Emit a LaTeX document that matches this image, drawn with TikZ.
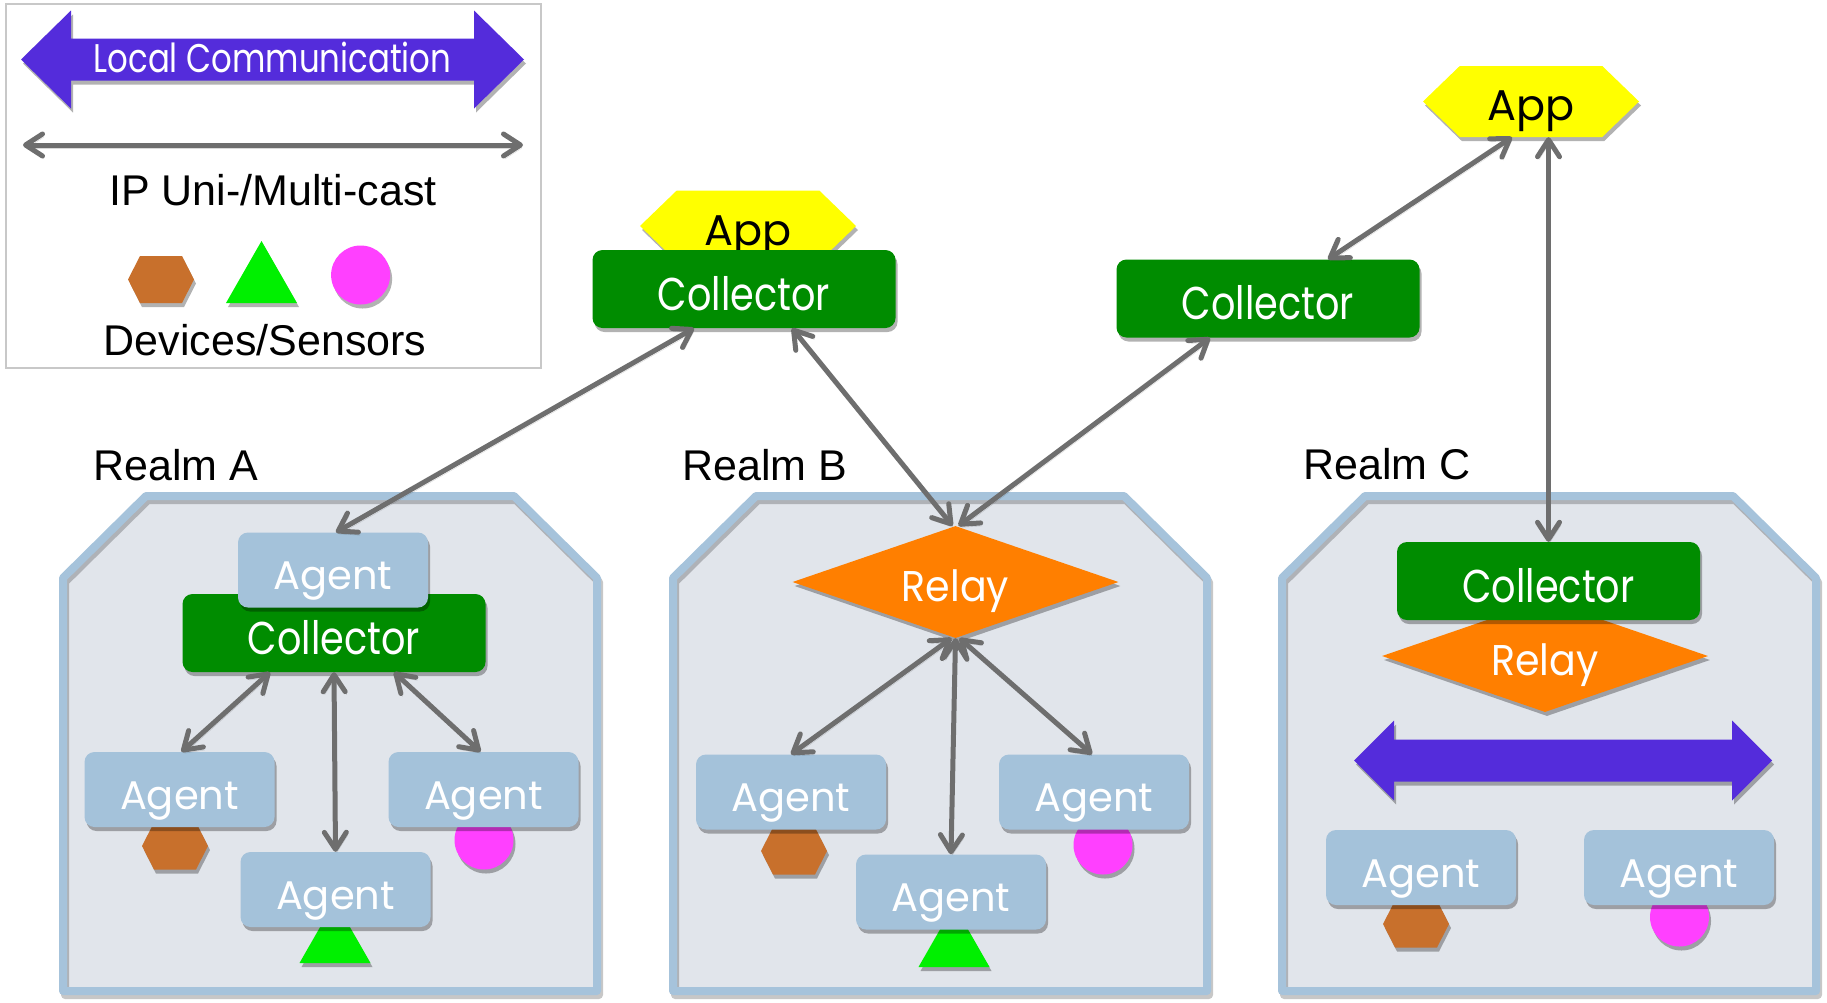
\documentclass[tikz,border=0pt]{standalone}
\usepackage{fontspec}
\setmainfont{Liberation Sans}
\newfontfamily\futN{Poppins}
\newfontfamily\futC[FakeStretch=0.83]{Poppins}
\newfontfamily\futR[FakeStretch=0.92]{Poppins}
\newfontfamily\futL[FakeStretch=0.81]{Poppins}
\usetikzlibrary{shapes.geometric,shapes.symbols,arrows.meta,shadows,calc}
\definecolor{purp}{HTML}{542CDB}
\definecolor{cgreen}{HTML}{008C00}
\definecolor{agblue}{HTML}{A4C2DA}
\definecolor{realmfill}{HTML}{E1E5EB}
\definecolor{realmborder}{HTML}{A6C3DB}
\definecolor{relayor}{HTML}{FF7F00}
\definecolor{appyel}{HTML}{FFFF00}
\definecolor{devbrown}{HTML}{C8702C}
\definecolor{devgreen}{HTML}{00F000}
\definecolor{devpink}{HTML}{FF40FF}
\definecolor{arrgray}{HTML}{6E6E6E}
\definecolor{legborder}{HTML}{C8C8C8}
\tikzset{
  shad/.style={drop shadow={shadow xshift=2pt, shadow yshift=-4pt, opacity=0.3, fill=black}},
  agentbox/.style={shape=rectangle, rounded corners=10pt, fill=agblue, minimum width=190pt, minimum height=75pt, inner sep=0pt, text=white, font=\futN\fontsize{40pt}{40pt}\selectfont, text height=39pt, text depth=0pt, shad},
  collbox/.style={shape=rectangle, rounded corners=10pt, fill=cgreen, minimum width=303pt, minimum height=78pt, inner sep=0pt, text=white, font=\futC\fontsize{46pt}{46pt}\selectfont, text height=42pt, text depth=0pt, shad},
  relaybox/.style={shape=diamond, shape aspect=2.9, fill=relayor, minimum width=326pt, minimum height=112pt, inner sep=0pt, text=white, font=\futR\fontsize{43pt}{43pt}\selectfont, text height=38pt, text depth=0pt, shad},
  appbox/.style={shape=signal, signal to=west and east, signal pointer angle=88, fill=appyel, minimum width=216pt, minimum height=71pt, inner sep=0pt, text=black, font=\futN\fontsize{43pt}{43pt}\selectfont, text height=38pt, text depth=0pt, shad},
  conn/.style={draw=arrgray, line width=5pt, {Straight Barb[length=17pt,width=22pt,round]}-{Straight Barb[length=17pt,width=22pt,round]},
    preaction={draw=black, opacity=0.15, transform canvas={xshift=1.5pt, yshift=-3pt}}},
  lbl/.style={font=\fontsize{43pt}{43pt}\selectfont, text=black, inner sep=0pt},
  lctext/.style={font=\futL\fontsize{40pt}{40pt}\selectfont, text=white, inner sep=0pt, text height=28pt, text depth=0pt},
  hexdev/.pic={\fill[devbrown, shad] (-33,0) -- (-21,-23.5) -- (21,-23.5) -- (33,0) -- (21,23.5) -- (-21,23.5) -- cycle;},
  tridev/.pic={\fill[devgreen, shad] (-35.5,0) -- (35.5,0) -- (0,-62) -- cycle;},
  circdev/.pic={\fill[devpink, shad] (0,0) circle[radius=29.5];},
  realm/.pic={
    \fill[realmfill] (4,578) -- (87,496) -- (455,496) -- (538,578) -- (538,991) -- (4,991) -- cycle;
    \draw[black, opacity=.22, line width=8pt, line join=round] (6,582) -- (89,500) -- (457,500) -- (540,582) -- (540,995) -- (6,995) -- cycle;
    \draw[realmborder, line width=8pt, line join=round] (4,578) -- (87,496) -- (455,496) -- (538,578) -- (538,991) -- (4,991) -- cycle;
  },
}
\newcommand\purplearrow[6]{% xl xr yc headlen headhalf shafthalf
  \fill[purp, shad] (#1,#3) -- ({#1+#4},{#3-#5}) -- ({#1+#4},{#3-#6}) -- ({#2-#4},{#3-#6}) -- ({#2-#4},{#3-#5}) -- (#2,#3) -- ({#2-#4},{#3+#5}) -- ({#2-#4},{#3+#6}) -- ({#1+#4},{#3+#6}) -- ({#1+#4},{#3+#5}) -- cycle;}
\begin{document}
\begin{tikzpicture}[x=1pt,y=-1pt]
\useasboundingbox (0,0) rectangle (1827,1002);
\fill[white] (0,0) rectangle (1827,1002);
% legend
\draw[legborder, line width=2pt] (6,3.5) rectangle (541,368);
\purplearrow{21}{524}{59.5}{50}{49}{21}
\node[lctext] (lc) at (272.5,58.5) {Local Communication};
\coordinate (ipL) at (23,145);
\coordinate (ipR) at (523,145);
\draw[conn] (ipL) -- (ipR);
\node[lbl, anchor=base] (iplbl) at (273,205) {IP Uni-/Multi-cast};
\pic at (161,279.5) {hexdev};
\pic at (261.5,303) {tridev};
\pic at (360.6,275) {circdev};
\node[lbl, anchor=base] (devlbl) at (265,355) {Devices/Sensors};
% realms
\pic at (59,0) {realm};
\pic at (669,0) {realm};
\pic at (1278,0) {realm};
\node[lbl, anchor=base west] (rlA) at (93,480) {Realm A};
\node[lbl, anchor=base west] (rlB) at (682,480) {Realm B};
\node[lbl, anchor=base west] (rlC) at (1303,479) {Realm C};
% top
\node[appbox] (appT) at (748,226) {App};
\node[collbox] (collT) at (744,289) {Collector};
\node[appbox] (appR) at (1531,101.5) {App};
\node[collbox] (collR) at (1268,298.5) {Collector};
% realm A
\node[collbox] (collA) at (334,633) {Collector};
\node[agentbox] (agAT) at (333,570) {Agent};
\pic at (175,846) {hexdev};
\pic at (484,840) {circdev};
\pic at (335,963) {tridev};
\node[agentbox] (agAL) at (179.5,789.5) {Agent};
\node[agentbox] (agAR) at (483.5,789.5) {Agent};
\node[agentbox] (agAB) at (335.5,889.5) {Agent};
% realm B
\node[relaybox] (relayB) at (955.5,582) {Relay};
\pic at (794,851) {hexdev};
\pic at (1103,845) {circdev};
\pic at (954,967) {tridev};
\node[agentbox] (agBL) at (791,792) {Agent};
\node[agentbox] (agBR) at (1094,792) {Agent};
\node[agentbox] (agBB) at (951,892) {Agent};
% realm C
\node[relaybox] (relayC) at (1545,656) {Relay};
\node[collbox] (collC) at (1548.5,581) {Collector};
\purplearrow{1354}{1772}{760.5}{40}{40}{21}
\pic at (1416,924) {hexdev};
\pic at (1679.5,917) {circdev};
\node[agentbox] (agCL) at (1421,867.5) {Agent};
\node[agentbox] (agCR) at (1679,867.5) {Agent};
% connectors
\draw[conn] ([xshift=-50pt]collT.south) -- ([xshift=3pt]agAT.north);
\draw[conn] ([xshift=48pt]collT.south) -- ([xshift=-3pt]relayB.north);
\draw[conn] ([xshift=-58pt]collR.south) -- ([xshift=3pt]relayB.north);
\draw[conn] ([xshift=-19pt]appR.south) -- ([xshift=60pt]collR.north);
\draw[conn] (appR.south -| collC.north) -- (collC.north);
\draw[conn] ([xshift=-64pt]collA.south) -- ([xshift=2pt]agAL.north);
\draw[conn] (collA.south) -- (agAB.north);
\draw[conn] ([xshift=60pt]collA.south) -- ([xshift=-3pt]agAR.north);
\draw[conn] ([xshift=-4pt]relayB.south) -- (agBL.north);
\draw[conn] (relayB.south) -- (agBB.north);
\draw[conn] ([xshift=4pt]relayB.south) -- ([xshift=-2pt]agBR.north);
\end{tikzpicture}
\end{document}
